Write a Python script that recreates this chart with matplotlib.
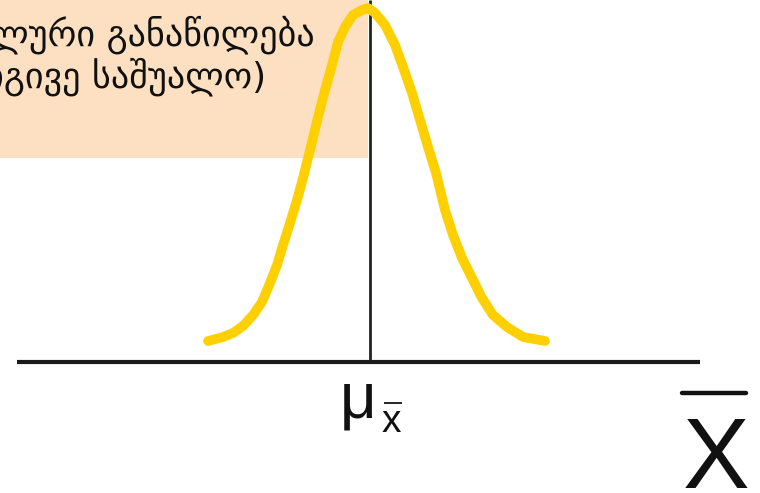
import matplotlib
matplotlib.use('Agg')
import matplotlib.pyplot as plt
from matplotlib.patches import Rectangle
from matplotlib.lines import Line2D

# curve: offset from the mean, height above the axis
curve_x = [-162, -147, -137, -127, -117, -108, -100, -93, -87, -80, -73, -67, -60, -52,
           -45, -38, -32, -25, -17, -8, -2, 5, 15, 25, 33, 42, 50, 58, 66, 75, 83, 92,
           102, 112, 123, 137, 153, 175]
curve_y = [21, 25, 29, 36, 47, 60, 79, 97, 117, 139, 162, 184, 212, 245,
           272, 297, 320, 335, 347, 352, 354, 349, 337, 317, 295, 269, 242, 215, 189, 152, 127, 104,
           84, 64, 47, 35, 25, 21]

box_lines = ['ნორმალური განაწილება', '(იგივე საშუალო)']
mean_symbol = 'μ'
mean_sub = 'x'
axis_label = 'X'

fig = plt.figure(figsize=(7.6, 4.93), dpi=100)
ax = fig.add_axes([0, 0, 1, 1])
ax.set_xlim(-370, 390)
ax.set_ylim(-131, 362)
ax.axis('off')

# shaded label box
ax.add_patch(Rectangle((-370, 204), 368, 170, facecolor='#fde0c1', edgecolor='none', zorder=1))
ax.text(-55, 317, box_lines[0], ha='right', va='baseline', fontsize=26,
        family='DejaVu Sans', color='#111111', zorder=2)
ax.text(-104, 275, box_lines[1], ha='right', va='baseline', fontsize=26,
        family='DejaVu Sans', color='#111111', zorder=2)

# mean line and horizontal axis
ax.vlines(0, 0, 362, color='#222222', linewidth=2, zorder=3)
ax.hlines(0, -353, 330, color='#1a1a1a', linewidth=3, zorder=3)

# sampling distribution curve
ax.plot(curve_x, curve_y, color='#ffd000', linewidth=7, solid_capstyle='round',
        solid_joinstyle='round', zorder=4)

# mu with x-bar subscript under the mean
ax.text(6, -56, mean_symbol, ha='right', va='baseline', fontsize=46,
        family='Liberation Sans', color='#111111')
ax.text(12, -70, mean_sub, ha='left', va='baseline', fontsize=28,
        family='Liberation Sans', color='#111111')
ax.hlines(-41, 14, 32, color='#111111', linewidth=1.3)

# X bar at the bottom right
ax.text(346, -126, axis_label, ha='center', va='baseline', fontsize=72,
        family='Liberation Sans', color='#111111')
fig.add_artist(Line2D([682 / 760, 746 / 760], [1 - 393 / 493, 1 - 393 / 493],
                      color='#111111', linewidth=3.2, solid_capstyle='round'))

fig.savefig('out.png', dpi=100)
